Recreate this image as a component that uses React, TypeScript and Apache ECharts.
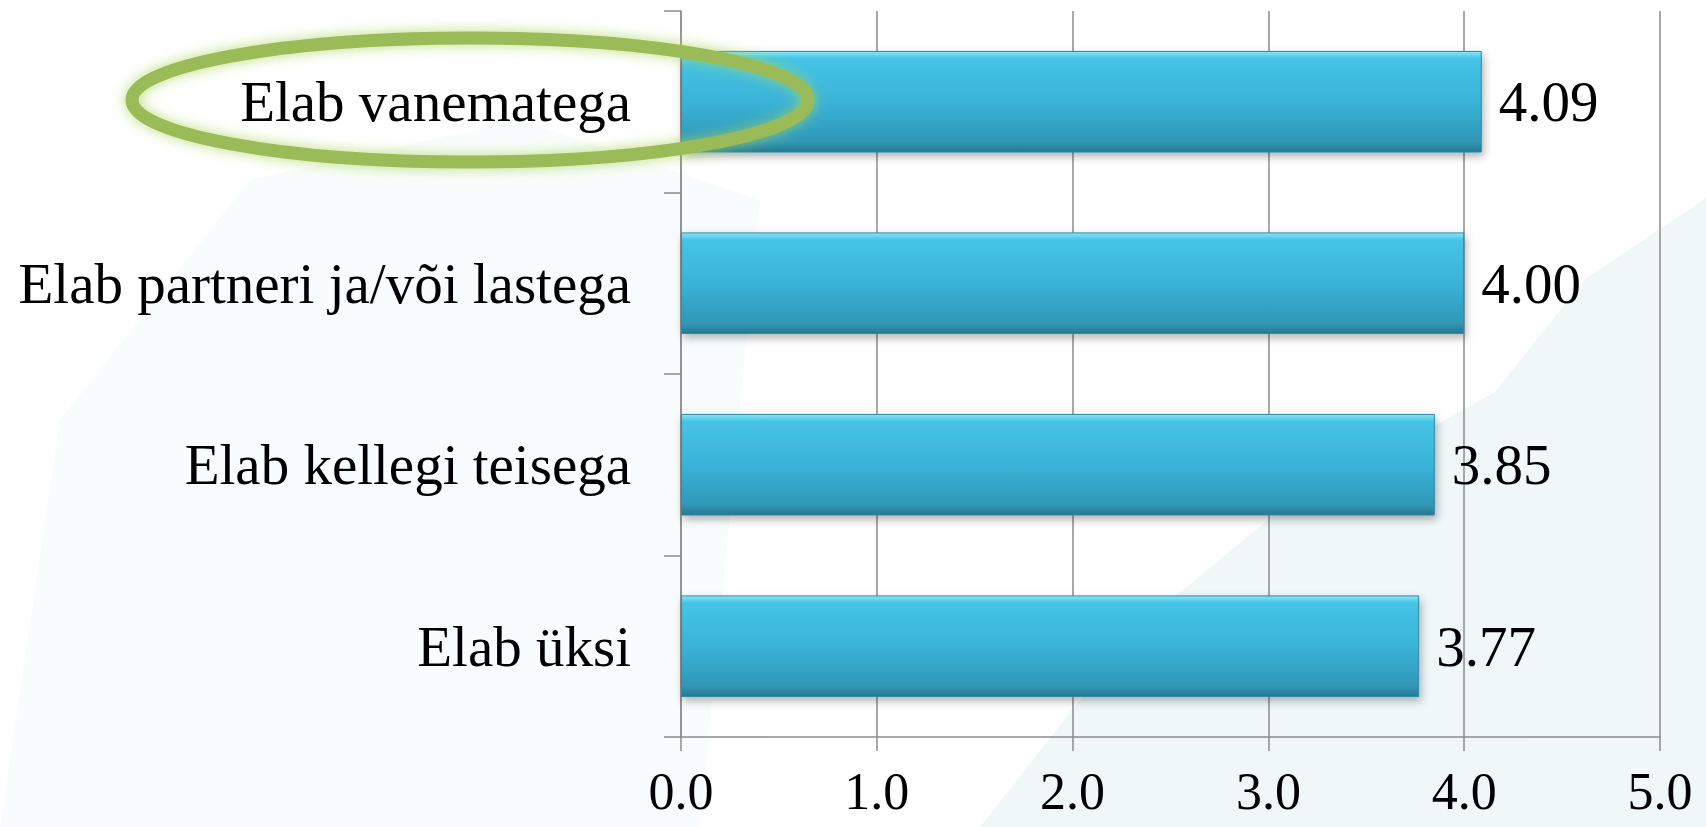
import React, { useEffect, useRef } from "react";
import * as echarts from "echarts";

const categories = [
  "Elab vanematega",
  "Elab partneri ja/või lastega",
  "Elab kellegi teisega",
  "Elab üksi",
];
const values = [4.09, 4.0, 3.85, 3.77];
const xTicks = { min: 0, max: 5, interval: 1 };

const FONT = "'Liberation Serif', 'DejaVu Serif', serif";
const GRID = "#8c8c8c";

export default function App() {
  const ref = useRef<HTMLDivElement>(null);
  useEffect(() => {
    if (!ref.current) return;
    const chart = echarts.init(ref.current, null, { renderer: "svg" });
    chart.setOption({
      animation: false,
      backgroundColor: "#ffffff",
      grid: { left: 681, right: 46, top: 11, bottom: 90, containLabel: false },
      graphic: [
        {
          type: "polygon",
          z: -10,
          shape: { points: [[0, 827], [60, 420], [250, 180], [520, 120], [760, 200], [700, 827]] },
          style: { fill: "rgba(236,244,246,0.3)" },
        },
        {
          type: "polygon",
          z: -10,
          shape: {
            points: [
              [980, 827], [1135, 630], [1270, 518], [1495, 392], [1585, 279], [1706, 198], [1706, 827],
            ],
          },
          style: { fill: "rgba(214,236,234,0.4)" },
        },
        {
          type: "ellipse",
          z: 100,
          shape: { cx: 470, cy: 100, rx: 338, ry: 62 },
          style: {
            fill: "none",
            stroke: "#9bbb59",
            lineWidth: 13,
            shadowBlur: 14,
            shadowColor: "rgba(170,215,90,0.8)",
          },
        },
      ],
      xAxis: {
        type: "value",
        min: xTicks.min,
        max: xTicks.max,
        interval: xTicks.interval,
        axisLine: { show: true, lineStyle: { color: GRID, width: 1.5 } },
        axisTick: { show: true, length: 14, lineStyle: { color: GRID, width: 1.5 } },
        splitLine: { show: true, lineStyle: { color: GRID, width: 1.5 } },
        axisLabel: {
          color: "#000",
          fontFamily: FONT,
          fontSize: 52,
          margin: 28,
          formatter: (v: number) => v.toFixed(1),
        },
      },
      yAxis: {
        type: "category",
        inverse: true,
        data: categories,
        axisLine: { show: true, lineStyle: { color: GRID, width: 1.5 } },
        axisTick: { show: true, length: 17, lineStyle: { color: GRID, width: 1.5 } },
        axisLabel: {
          color: "#000",
          fontFamily: FONT,
          fontSize: 57,
          margin: 50,
        },
      },
      series: [
        {
          type: "bar",
          data: values,
          barWidth: "56%",
          itemStyle: {
            color: new echarts.graphic.LinearGradient(0, 0, 0, 1, [
              { offset: 0, color: "#8ae6f8" },
              { offset: 0.07, color: "#45c4e6" },
              { offset: 0.5, color: "#3ab3d8" },
              { offset: 0.9, color: "#3097b7" },
              { offset: 1, color: "#27788f" },
            ]),
            borderColor: "#2b8aa8",
            borderWidth: 1,
            shadowBlur: 8,
            shadowOffsetX: 2,
            shadowOffsetY: 4,
            shadowColor: "rgba(0,0,0,0.3)",
          },
          label: {
            show: true,
            position: "right",
            distance: 17,
            color: "#000",
            fontFamily: FONT,
            fontSize: 57,
            formatter: (p: any) => Number(p.value).toFixed(2),
          },
        },
      ],
    });
    return () => chart.dispose();
  }, []);
  return (
    <div
      ref={ref}
      style={{ position: "fixed", left: 0, top: 0, width: 1706, height: 827 }}
    />
  );
}
